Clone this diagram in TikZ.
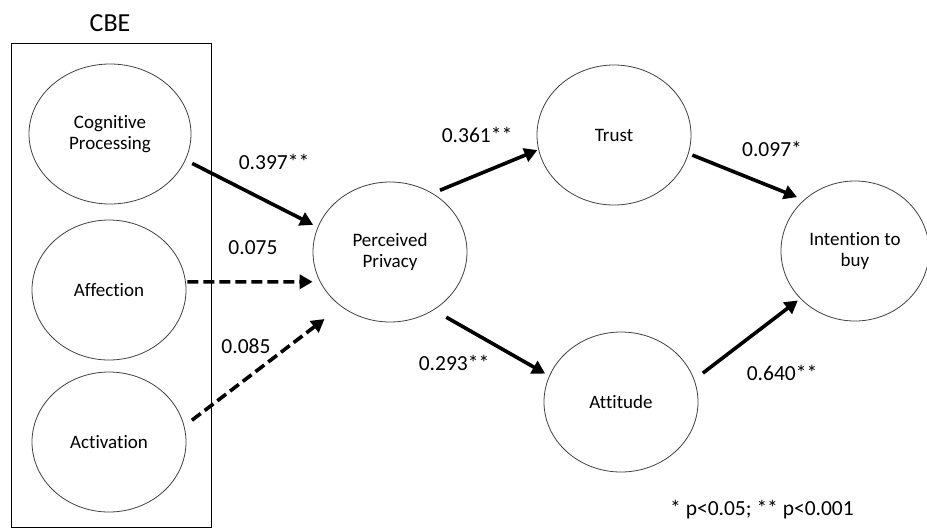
\documentclass[tikz,border=0pt]{standalone}
\usepackage{fontspec}
\setmainfont{Carlito}[Ligatures=NoCommon]
\usetikzlibrary{arrows.meta,shapes.geometric}
\begin{document}
\begin{tikzpicture}[x=1pt,y=-1pt,
  construct/.style={draw=black!75, line width=0.8pt, ellipse, inner sep=0pt,
    minimum width=154pt, minimum height=140pt, align=center,
    font=\fontsize{19}{21.5}\selectfont},
  lbl/.style={font=\fontsize{21.5}{25}\selectfont, inner sep=0pt},
  effect/.style={line width=3.6pt, -{Triangle[length=13pt,width=14pt]}},
  weak/.style={effect, dash pattern=on 11pt off 5pt}]
\useasboundingbox (0,0) rectangle (927,531);

% CBE group
\node[font=\fontsize{26}{30}\selectfont, inner sep=0pt] (cbe) at (110,23) {CBE};
\node[draw, line width=0.8pt, minimum width=200pt, minimum height=484pt, inner sep=0pt] (cbebox) at (111,285) {};

% constructs
\node[construct, minimum width=162pt] (cog) at (110,134) {Cognitive\\Processing};
\node[construct] (aff) at (109,290) {Affection};
\node[construct] (act) at (109,442) {Activation};
\node[construct] (pp) at (390,252) {Perceived\\Privacy};
\node[construct] (tr) at (614,135) {Trust};
\node[construct] (att) at (621,402) {Attitude};
\node[construct, minimum width=148pt] (int) at (855,251) {Intention to\\buy};

% paths
\draw[effect, shorten <=7.4pt, shorten >=5pt] (cog.-19.5) -- (pp.161.3);
\draw[weak, shorten <=1.4pt, shorten >=7.2pt] (aff.6) -- (pp.203);
\draw[weak, shorten <=9.5pt, shorten >=20.7pt] (act.12.7) -- (pp.228.5);
\draw[effect, shorten <=7.9pt, shorten >=1pt] (pp.54.1) -- (tr.191.2);
\draw[effect, shorten <=14.4pt, shorten >=4.6pt] (pp.-53.9) -- (att.160.4);
\draw[effect, shorten <=4pt, shorten >=7.4pt] (tr.-14.4) -- (int.135);
\draw[effect, shorten <=10.7pt, shorten >=3pt] (att.17.4) -- (int.221.8);

% coefficients
\node[lbl] (c1) at (274,162) {0.397**};
\node[lbl] (c2) at (253,248) {0.075};
\node[lbl] (c3) at (246,346) {0.085};
\node[lbl] (c4) at (477,135) {0.361**};
\node[lbl] (c5) at (454,363) {0.293**};
\node[lbl] (c6) at (772,149) {0.097*};
\node[lbl] (c7) at (782,373) {0.640**};

% note
\node[lbl, anchor=west] (note) at (670,510) {* p<0.05; ** p<0.001};
\end{tikzpicture}
\end{document}
